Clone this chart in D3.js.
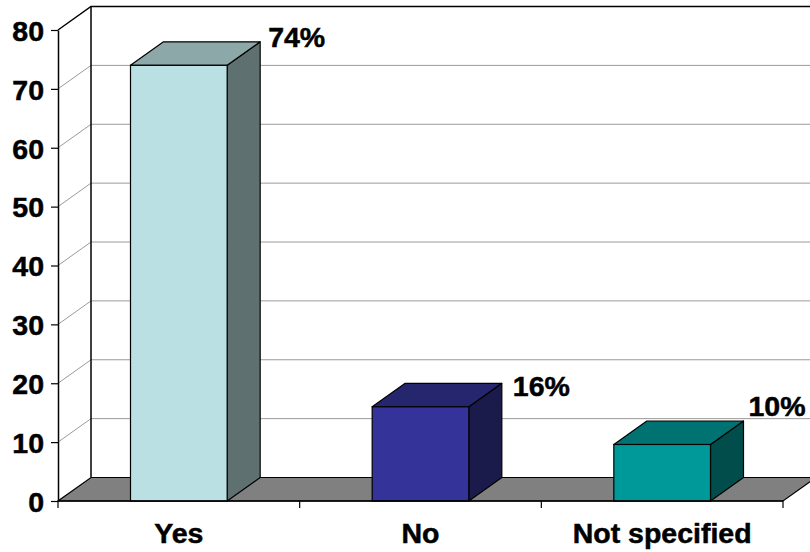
<!DOCTYPE html>
<html>
<head>
  <meta charset="UTF-8">
  <title></title>
  <style>
    body{ margin:0; background:#fff; }
    svg text{ font-family: 'Liberation Sans', Arial, sans-serif; font-weight:bold; fill:#000; stroke:#000; stroke-width:0.5px; }
    .ylab{ font-size:28.5px; }
    .xlab{ font-size:28.5px; text-anchor:middle; }
    .vlab{ font-size:28.5px; }
  </style>
</head>
<body>
<script src="https://cdnjs.cloudflare.com/ajax/libs/d3/7.8.5/d3.min.js"></script>
<script>
/// data
var categories = ["Yes", "No", "Not specified"];
var values = [74, 16, 9.6];
var yTicks = [0, 10, 20, 30, 40, 50, 60, 70, 80];

/// params
var width = 810, height = 552;
var frontColor = ["#BBE0E3", "#333399", "#009999"];
var topColor   = ["#8CA8A9", "#26266F", "#007272"];
var sideColor  = ["#5E7070", "#1B1B4B", "#004D4C"];
// label nudges from the back-top-right corner of each bar
var labelNudge = [[8, 5.5], [11, 12.5], [5, -5]];
var dx = 33, dy = -23.5; // depth of the 3d box

var svg = d3.select("body").append("svg")
    .attr("width", width)
    .attr("height", height);

var left = 58, right = 783, y0 = 501, y80 = 30;

var y = d3.scaleLinear().domain([0, 80]).range([y0, y80]);
var xCat = d3.scaleBand().domain(categories).range([left, right]);
var xBar = d3.scaleBand().domain(categories).range([left, right])
    .paddingInner(0.6).paddingOuter(0.3);

// back wall gridlines
svg.append("g").selectAll("line.grid")
  .data(yTicks.slice(1, -1))
  .enter().append("line")
    .attr("x1", left + dx).attr("x2", right + dx)
    .attr("y1", function(d) { return y(d) + dy; })
    .attr("y2", function(d) { return y(d) + dy; })
    .attr("stroke", "#9a9a9a").attr("stroke-width", 1);

// side wall gridlines
svg.append("g").selectAll("line.sgrid")
  .data(yTicks.slice(1, -1))
  .enter().append("line")
    .attr("x1", left).attr("x2", left + dx)
    .attr("y1", function(d) { return y(d); })
    .attr("y2", function(d) { return y(d) + dy; })
    .attr("stroke", "#9a9a9a").attr("stroke-width", 1);

// walls outline
svg.append("path")
    .attr("d", "M" + left + "," + y(80) + "L" + (left + dx) + "," + (y(80) + dy) +
               "L" + (right + dx) + "," + (y(80) + dy))
    .attr("fill", "none").attr("stroke", "#000").attr("stroke-width", 1.5);
svg.append("line")
    .attr("x1", left + dx).attr("x2", left + dx)
    .attr("y1", y(80) + dy).attr("y2", y(0) + dy)
    .attr("stroke", "#000").attr("stroke-width", 1.5);

// floor
svg.append("path")
    .attr("d", "M" + left + "," + y0 + "L" + right + "," + y0 +
               "L" + (right + dx) + "," + (y0 + dy) + "L" + (left + dx) + "," + (y0 + dy) + "Z")
    .attr("fill", "#808080").attr("stroke", "#000").attr("stroke-width", 1.2);

// bars
var bw = xBar.bandwidth();
var bars = svg.append("g").selectAll("g.bar")
  .data(values)
  .enter().append("g");

bars.append("path") // side
    .attr("d", function(d, i) {
      var x1 = xBar(categories[i]) + bw;
      return "M" + x1 + "," + y(d) + "L" + (x1 + dx) + "," + (y(d) + dy) +
             "L" + (x1 + dx) + "," + (y(0) + dy) + "L" + x1 + "," + y(0) + "Z";
    })
    .attr("fill", function(d, i) { return sideColor[i]; })
    .attr("stroke", "#000").attr("stroke-width", 1.2).attr("stroke-linejoin", "round");

bars.append("path") // top
    .attr("d", function(d, i) {
      var x0 = xBar(categories[i]), x1 = x0 + bw;
      return "M" + x0 + "," + y(d) + "L" + (x0 + dx) + "," + (y(d) + dy) +
             "L" + (x1 + dx) + "," + (y(d) + dy) + "L" + x1 + "," + y(d) + "Z";
    })
    .attr("fill", function(d, i) { return topColor[i]; })
    .attr("stroke", "#000").attr("stroke-width", 1.2).attr("stroke-linejoin", "round");

bars.append("rect") // front
    .attr("x", function(d, i) { return xBar(categories[i]); })
    .attr("y", function(d) { return y(d); })
    .attr("width", bw)
    .attr("height", function(d) { return y(0) - y(d); })
    .attr("fill", function(d, i) { return frontColor[i]; })
    .attr("stroke", "#000").attr("stroke-width", 1.2);

// value labels
bars.append("text")
    .attr("class", "vlab")
    .attr("x", function(d, i) { return xBar(categories[i]) + bw + dx + labelNudge[i][0]; })
    .attr("y", function(d, i) { return y(d) + dy + labelNudge[i][1]; })
    .text(function(d) { return Math.round(d) + "%"; });

// y axis
var yAxis = svg.append("g")
    .attr("transform", "translate(" + left + ",0)")
    .call(d3.axisLeft(y).tickValues(yTicks).tickSize(7).tickSizeOuter(0).tickPadding(7));
yAxis.select(".domain").attr("stroke", "#000").attr("stroke-width", 1.5);
yAxis.selectAll(".tick line").attr("stroke", "#000").attr("stroke-width", 1.2);
yAxis.selectAll(".tick text").attr("class", "ylab").attr("font-size", null)
    .attr("font-family", null).attr("dy", "0.36em");

// x axis: baseline + boundary ticks
svg.append("line")
    .attr("x1", left).attr("x2", right).attr("y1", y0).attr("y2", y0)
    .attr("stroke", "#000").attr("stroke-width", 1.5);
var bounds = categories.map(function(c) { return xCat(c); }).concat([right]);
svg.append("g").selectAll("line")
  .data(bounds)
  .enter().append("line")
    .attr("x1", function(d) { return d; }).attr("x2", function(d) { return d; })
    .attr("y1", y0).attr("y2", y0 + 7)
    .attr("stroke", "#000").attr("stroke-width", 1.2);

svg.append("g").selectAll("text")
  .data(categories)
  .enter().append("text")
    .attr("class", "xlab")
    .attr("x", function(d) { return xCat(d) + xCat.bandwidth() / 2; })
    .attr("y", 543)
    .text(function(d) { return d; });
</script>
</body>
</html>
